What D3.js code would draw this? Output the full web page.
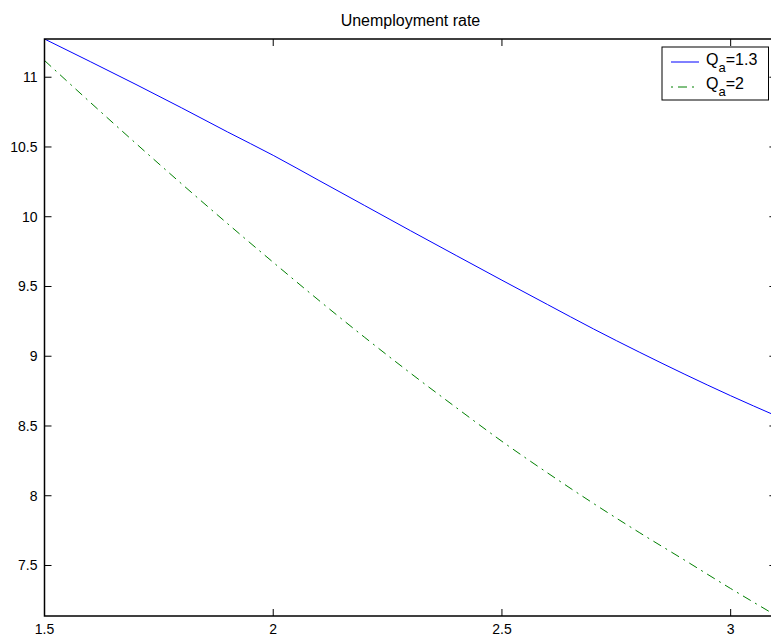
<!DOCTYPE html>
<html><head><meta charset="utf-8">
<script src="https://cdn.jsdelivr.net/npm/d3@7/dist/d3.min.js"></script>
<style>html,body{margin:0;padding:0;background:#fff;overflow:hidden}svg{display:block}</style>
</head><body>
<script>
const xValues = [1.5,1.6,1.7,1.8,1.9,2.0,2.1,2.2,2.3,2.4,2.5,2.6,2.7,2.8,2.9,3.0,3.1];
const seriesQa13 = [11.274,11.112,10.948,10.78,10.608,10.44,10.26,10.08,9.90,9.722,9.545,9.37,9.196,9.03,8.87,8.717,8.572];
const seriesQa2 = [11.12,10.82,10.525,10.235,9.951,9.673,9.40,9.135,8.879,8.632,8.39,8.163,7.945,7.737,7.537,7.335,7.14];
const xTicks = [1.5,2,2.5,3];
const yTicks = [7.5,8,8.5,9,9.5,10,10.5,11];
const seriesNames = ["1.3","2"];
const titleText = "Unemployment rate";

const W = 771, H = 637;
const L = 44.5, R = 776.4, T = 39, B = 616;
const svg = d3.select("body").append("svg").attr("width", W).attr("height", H);
const x = d3.scaleLinear().domain([1.5, 3.1]).range([L, R]);
const y = d3.scaleLinear().domain([7.138, 11.274]).range([B, T]);
const font = "'Liberation Sans', Arial, Helvetica, sans-serif";

svg.append("defs").append("clipPath").attr("id","clip")
  .append("rect").attr("x",L).attr("y",T).attr("width",R-L).attr("height",B-T);

// curves
const line = d3.line().x((d,i)=>x(xValues[i])).y(d=>y(d)).curve(d3.curveMonotoneX);
const g = svg.append("g").attr("clip-path","url(#clip)");
g.append("path").datum(seriesQa13).attr("d",line).attr("fill","none").attr("stroke","#0000ff").attr("stroke-width",1);
g.append("path").datum(seriesQa2).attr("d",line).attr("fill","none").attr("stroke","#008000").attr("stroke-width",1)
  .attr("stroke-dasharray","9,5,2,5");

// axes box
svg.append("rect").attr("x",L).attr("y",T).attr("width",R-L).attr("height",B-T)
  .attr("fill","none").attr("stroke","#000").attr("stroke-width",1.5);

const tl = 7;
// ticks
const ax = svg.append("g");
xTicks.forEach(v=>{
  ax.append("line").attr("x1",x(v)).attr("x2",x(v)).attr("y1",B).attr("y2",B-tl).attr("stroke","#000");
  ax.append("line").attr("x1",x(v)).attr("x2",x(v)).attr("y1",T).attr("y2",T+tl).attr("stroke","#000");
  ax.append("text").attr("x",x(v)).attr("y",B+18).attr("text-anchor","middle")
    .attr("font-family",font).attr("font-size",14).text(v);
});
yTicks.forEach(v=>{
  ax.append("line").attr("x1",L).attr("x2",L+tl).attr("y1",y(v)).attr("y2",y(v)).attr("stroke","#000");
  ax.append("line").attr("x1",R).attr("x2",R-tl).attr("y1",y(v)).attr("y2",y(v)).attr("stroke","#000");
  ax.append("text").attr("x",L-7).attr("y",y(v)+5).attr("text-anchor","end")
    .attr("font-family",font).attr("font-size",14).text(v);
});

// title
svg.append("text").attr("x",(L+R)/2).attr("y",26).attr("text-anchor","middle")
  .attr("font-family",font).attr("font-size",16).text(titleText);

// legend
const lg = svg.append("g");
lg.append("rect").attr("x",662).attr("y",47).attr("width",106.5).attr("height",53)
  .attr("fill","#fff").attr("stroke","#000").attr("stroke-width",1);
const rows = [{c:"#0000ff",d:null,yy:62,ty:65},{c:"#008000",d:"2,5,9,5",yy:87,ty:89}];
rows.forEach((r,i)=>{
  const ln = lg.append("line").attr("x1",671).attr("x2",699).attr("y1",r.yy).attr("y2",r.yy)
    .attr("stroke",r.c).attr("stroke-width",1);
  if (r.d) ln.attr("stroke-dasharray",r.d);
  const t = lg.append("text").attr("x",706).attr("y",r.ty).attr("font-family",font).attr("font-size",16);
  t.append("tspan").text("Q");
  t.append("tspan").attr("font-size",13).attr("dy",7).text("a");
  t.append("tspan").attr("dy",-7).text("=" + seriesNames[i]);
});
</script>
</body></html>
